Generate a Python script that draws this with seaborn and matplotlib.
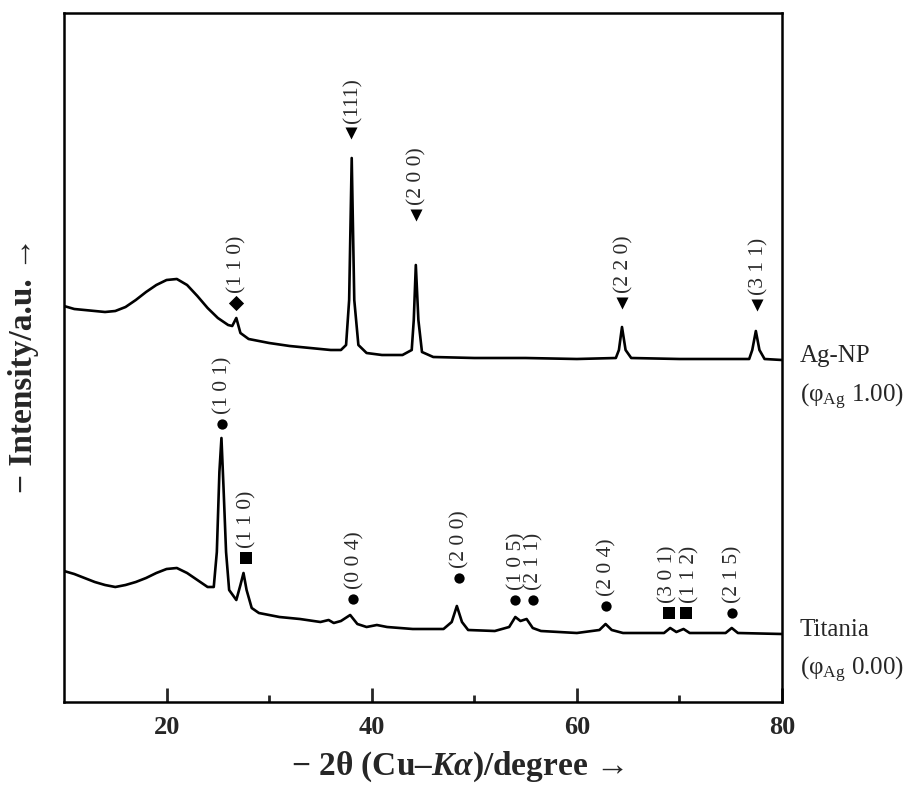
import numpy as np
import pandas as pd
import matplotlib
matplotlib.use("Agg")
import matplotlib.pyplot as plt
import seaborn as sns

# ---------------- data ----------------
ag_x = [10, 11, 12, 13, 14, 15, 16, 17, 18, 19, 20, 21, 22, 23, 24, 25, 26, 26.4, 26.8, 27.2,
        28, 30, 32, 34, 36, 37, 37.5, 37.8, 38.05, 38.3, 38.7, 39.5, 41, 43, 43.9, 44.1, 44.3,
        44.55, 44.9, 46, 50, 55, 60, 63.8, 64.1, 64.4, 64.75, 65.3, 70, 76.8, 77.1, 77.45,
        77.8, 78.3, 80]
ag_y = [396, 393, 392, 391, 390, 391, 395, 402, 410, 417, 422, 423, 417, 406, 394, 384, 377, 376, 384, 369,
        363, 359, 356, 354, 352, 352, 357, 402, 544, 402, 357, 349, 347, 347, 352, 382, 437,
        382, 350, 345, 344, 344, 343, 344, 352, 375, 352, 344, 343, 343, 352, 371,
        352, 343, 342]

ti_x = [10, 11, 12, 13, 14, 15, 16, 17, 18, 19, 20, 21, 22, 23, 24, 24.6, 24.9, 25.15, 25.35, 25.55,
        25.8, 26.1, 26.8, 27.2, 27.5, 27.8, 28.3, 29, 31, 33, 35, 35.8, 36.3, 37, 37.9, 38.6, 39.5,
        40.5, 41.5, 44, 47, 47.8, 48.3, 48.8, 49.4, 52, 53.4, 54.0, 54.5, 55.1, 55.7, 56.5, 60,
        62.2, 62.8, 63.4, 64.5, 68.5, 69.1, 69.7, 70.4, 71, 74.5, 75.1, 75.7, 80]
ti_y = [131, 128, 124, 120, 117, 115, 117, 120, 124, 129, 133, 134, 129, 122, 115, 115, 150, 230, 264, 215,
        150, 112, 102, 117, 129, 112, 94, 89, 85, 83, 80, 82, 79, 81, 87, 78, 75,
        77, 75, 73, 73, 80, 96, 80, 72, 71, 75, 85, 81, 83, 74, 71, 69,
        72, 78, 72, 69, 69, 74, 70, 73, 69, 69, 74, 69, 68]

# peak annotations: position of the marker, label, marker kind
ag_ann_x = [26.75, 38.0, 44.3, 64.4, 77.6]
ag_ann_y = [399, 569, 487, 399, 397]
ag_ann_lbl = ["(1 1 0)", "(111)", "(2 0 0)", "(2 2 0)", "(3 1 1)"]
ag_ann_kind = ["diamond", "tri", "tri", "tri", "tri"]

ti_ann_x = [25.4, 27.7, 38.2, 48.5, 54.0, 55.7, 62.8, 69.0, 70.6, 75.1]
ti_ann_y = [278, 144, 103, 124, 102, 102, 96, 89, 89, 89]
ti_ann_lbl = ["(1 0 1)", "(1 1 0)", "(0 0 4)", "(2 0 0)", "(1 0 5)", "(2 1 1)",
              "(2 0 4)", "(3 0 1)", "(1 1 2)", "(2 1 5)"]
ti_ann_kind = ["circle", "square", "circle", "circle", "circle", "circle",
               "circle", "square", "square", "circle"]

x_ticks = [20, 40, 60, 80]
x_minor = [30, 50, 70]

# ---------------- styling ----------------
sns.set_theme(style="white")
plt.rcParams["font.family"] = ["Liberation Serif", "DejaVu Serif"]
plt.rcParams["mathtext.fontset"] = "custom"
plt.rcParams["mathtext.rm"] = "Liberation Serif"
plt.rcParams["mathtext.it"] = "Liberation Serif:italic:bold"
plt.rcParams["mathtext.bf"] = "Liberation Serif:bold"

W, H = 911, 786
fig = plt.figure(figsize=(W / 100, H / 100), dpi=100)
ax = fig.add_axes([64 / W, 1 - 702 / H, (782 - 64) / W, (702 - 13) / H])

df = pd.concat([
    pd.DataFrame({"theta": ag_x, "I": ag_y, "sample": "Ag-NP"}),
    pd.DataFrame({"theta": ti_x, "I": ti_y, "sample": "Titania"}),
])
sns.lineplot(data=df, x="theta", y="I", units="sample", estimator=None, sort=False,
             color="black", lw=1.9, ax=ax)

mk = {"diamond": ("D", 60), "tri": ("v", 75), "circle": ("o", 55), "square": ("s", 75)}
ann = pd.DataFrame({
    "x": ag_ann_x + ti_ann_x,
    "y": ag_ann_y + ti_ann_y,
    "lbl": ag_ann_lbl + ti_ann_lbl,
    "kind": ag_ann_kind + ti_ann_kind,
})
for kind, (m, s) in mk.items():
    sub = ann[ann["kind"] == kind]
    ax.scatter(sub["x"], sub["y"], marker=m, s=s, color="black", zorder=5, linewidths=0)
for _, r in ann.iterrows():
    dx = 1
    if r["lbl"] == "(3 0 1)" and r["kind"] == "square":
        dx = -1
    if r["lbl"] == "(1 1 2)":
        dx = 3
    ax.annotate(r["lbl"], (r["x"], r["y"]), xytext=(dx, 7), textcoords="offset points",
                rotation=90, ha="center", va="bottom", fontsize=15.5, color="#2a2a2a")

ax.set_xlim(10, 80)
ax.set_ylim(0, 689)
ax.set_xticks(x_ticks)
ax.set_xticks(x_minor, minor=True)
ax.set_xticklabels([str(t) for t in x_ticks], fontsize=19, fontweight="bold")
ax.set_yticks([])
ax.tick_params(axis="x", which="major", direction="in", length=10, width=2, pad=10,
               bottom=True, top=False)
ax.tick_params(axis="x", which="minor", direction="in", length=5, width=2,
               bottom=True, top=False)
for sp in ax.spines.values():
    sp.set_color("black")
    sp.set_linewidth(1.8)
ax.set_xlabel("")
ax.set_ylabel("")

def fx(px):
    return px / W

def fy(py):
    return 1 - py / H

fig.text(fx(457), fy(767), r"− 2θ (Cu–$K\alpha$)/degree →", ha="center", va="center",
         fontsize=24, fontweight="bold")
fig.text(fx(24), fy(365), "− Intensity/a.u. →", ha="center", va="center",
         rotation=90, fontsize=24, fontweight="bold")

side = 18
fig.text(fx(800), fy(356), "Ag-NP", ha="left", va="center", fontsize=side)
fig.text(fx(800), fy(397), r"(φ$_{\mathrm{Ag}}$ 1.00)", ha="left", va="center", fontsize=side)
fig.text(fx(800), fy(630), "Titania", ha="left", va="center", fontsize=side)
fig.text(fx(800), fy(670), r"(φ$_{\mathrm{Ag}}$ 0.00)", ha="left", va="center", fontsize=side)

fig.savefig("out.png", dpi=100)
